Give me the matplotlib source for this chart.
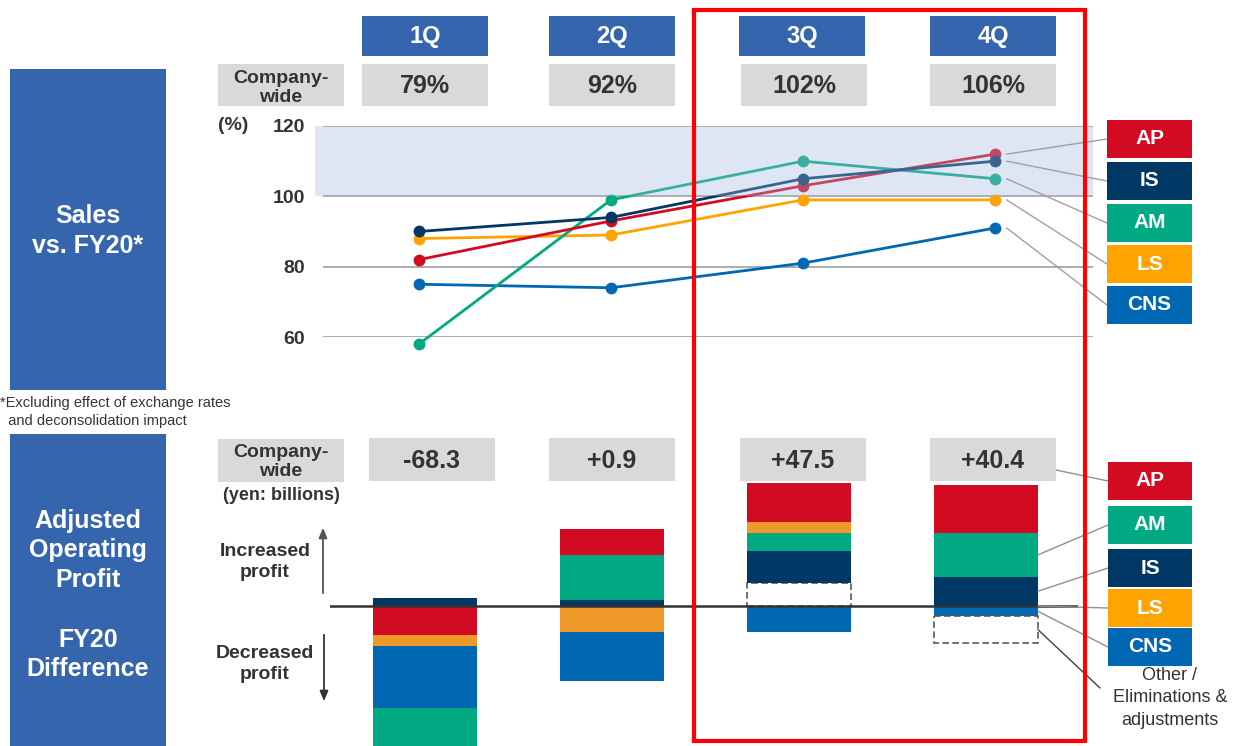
import matplotlib
matplotlib.use("Agg")
import matplotlib.pyplot as plt
from matplotlib.patches import Rectangle, ConnectionPatch

plt.rcParams['font.family'] = ['Liberation Sans', 'DejaVu Sans']

# ---- data ----
quarters = ["1Q", "2Q", "3Q", "4Q"]
company_sales = ["79%", "92%", "102%", "106%"]
company_profit = ["-68.3", "+0.9", "+47.5", "+40.4"]

# sales vs FY20 (%) by segment
sales_AP = [82, 93, 103, 112]
sales_IS = [90, 94, 105, 110]
sales_AM = [58, 99, 110, 105]
sales_LS = [88, 89, 99, 99]
sales_CNS = [75, 74, 81, 91]

# adjusted operating profit difference vs FY20 (yen, billions)
profit_AP = [-14.1, 12.6, 18.7, 23.2]
profit_IS = [3.9, 2.9, 15.4, 14.0]
profit_AM = [-22.9, 21.6, 8.5, 21.1]
profit_LS = [-5.3, -12.7, 5.3, -0.3]
profit_CNS = [-29.9, -23.5, -12.5, -4.8]
profit_other = [0.0, 0.0, 11.1, -12.9]

colors = {"AP": "#d20a22", "IS": "#003865", "AM": "#00a982",
          "LS": "#ffa300", "CNS": "#0068b2"}
bar_colors = dict(colors, LS="#f0992b")
BLUE = "#3566ad"
GREY = "#d9d9d9"
TXT = "#333333"

W, H = 1239, 746
fig = plt.figure(figsize=(W / 100, H / 100), dpi=100)


def px_axes(x0, y0, x1, y1):
    return fig.add_axes([x0 / W, 1 - y1 / H, (x1 - x0) / W, (y1 - y0) / H])


# ---- line chart ----
ax = px_axes(323, 126, 1093, 337)
x = range(len(quarters))
sales = {"AP": sales_AP, "IS": sales_IS, "AM": sales_AM, "LS": sales_LS, "CNS": sales_CNS}
for name in ["CNS", "LS", "AM", "AP", "IS"]:
    ax.plot(x, sales[name], color=colors[name], lw=2, marker="o", ms=7.5,
            clip_on=False, zorder=3)
ax.axhspan(100, 120, xmin=-0.011, xmax=1, color="#a6badd", alpha=0.35, lw=0,
           zorder=4, clip_on=False)
ax.set_xlim(-0.5, 3.51)
ax.set_ylim(60, 120)
ax.set_yticks([60, 80, 100, 120])
ax.set_xticks([])
ax.grid(axis="y", color="#a6a6a6", lw=1.3, zorder=1)
ax.tick_params(axis="y", length=0, pad=13, labelsize=14, labelcolor=TXT)
for lab in ax.get_yticklabels():
    lab.set_fontweight("bold")
for s in ax.spines.values():
    s.set_visible(False)
ax.patch.set_alpha(0)

# ---- stacked profit bars ----
axb = px_axes(330, 470, 1078, 746)
profit = {"AP": profit_AP, "IS": profit_IS, "AM": profit_AM, "LS": profit_LS,
          "CNS": profit_CNS, "Other": profit_other}
pos_order = ["Other", "IS", "AM", "LS", "AP"]
neg_order = ["AP", "LS", "CNS", "AM", "Other"]
bw = 0.556
mids = {}
for i in range(len(quarters)):
    up, down = 0.0, 0.0
    for name in pos_order:
        v = profit[name][i]
        if v > 0:
            if name == "Other":
                axb.bar(i, v, bw, bottom=up, facecolor="white", edgecolor="#595959",
                        ls=(0, (4, 2)), lw=1.2, zorder=2)
            else:
                axb.bar(i, v, bw, bottom=up, color=bar_colors[name], lw=0, zorder=2)
            mids[(i, name)] = up + v / 2
            up += v
    for name in neg_order:
        v = profit[name][i]
        if v < 0:
            if name == "Other":
                axb.bar(i, v, bw, bottom=down, facecolor="white", edgecolor="#595959",
                        ls=(0, (4, 2)), lw=1.2, zorder=2)
            else:
                axb.bar(i, v, bw, bottom=down, color=bar_colors[name], lw=0, zorder=2)
            mids[(i, name)] = down + v / 2
            down += v
axb.axhline(0, color="#333333", lw=1.8, zorder=3)
axb.set_xlim(-0.508, 3.492)
axb.set_ylim(-67.7, 65.5)
axb.axis("off")

# ---- overlay for boxes and labels ----
ov = fig.add_axes([0, 0, 1, 1], zorder=5)
ov.set_xlim(0, W)
ov.set_ylim(H, 0)
ov.axis("off")
ov.patch.set_alpha(0)


def box(x0, y0, x1, y1, color, **kw):
    ov.add_patch(Rectangle((x0, y0), x1 - x0, y1 - y0, color=color, lw=0, **kw))


# left side blocks
box(10, 69, 166, 390, BLUE)
box(10, 434, 166, 746, BLUE)
ov.text(88, 231, "Sales\nvs. FY20*", color="white", fontsize=18, fontweight="bold",
        ha="center", va="center", linespacing=1.35)
ov.text(88, 595, "Adjusted\nOperating\nProfit\n\nFY20\nDifference", color="white",
        fontsize=18, fontweight="bold", ha="center", va="center", linespacing=1.3)
ov.text(0, 412, "*Excluding effect of exchange rates\n  and deconsolidation impact",
        fontsize=10.5, color=TXT, ha="left", va="center", linespacing=1.3)

# company-wide labels
box(218, 64, 344, 106, GREY)
ov.text(281, 88, "Company-\nwide", fontsize=14, fontweight="bold", color=TXT,
        ha="center", va="center", linespacing=1.15)
box(218, 439, 344, 482, GREY)
ov.text(281, 462, "Company-\nwide", fontsize=14, fontweight="bold", color=TXT,
        ha="center", va="center", linespacing=1.15)
ov.text(281, 496, "(yen: billions)", fontsize=13, fontweight="bold", color=TXT,
        ha="center", va="center")
ov.text(233, 125, "(%)", fontsize=14, fontweight="bold", color=TXT, ha="center", va="center")

# quarter headers and company-wide values
head_cx = [425, 612, 802, 993]
sales_cx = [425, 612, 804, 993]
prof_cx = [432, 612, 803, 993]
for i, q in enumerate(quarters):
    box(head_cx[i] - 63, 16, head_cx[i] + 63, 56, BLUE)
    ov.text(head_cx[i], 37, q, color="white", fontsize=17, fontweight="bold",
            ha="center", va="center")
    box(sales_cx[i] - 63, 64, sales_cx[i] + 63, 106, GREY)
    ov.text(sales_cx[i], 86, company_sales[i], color=TXT, fontsize=18,
            fontweight="bold", ha="center", va="center")
    box(prof_cx[i] - 63, 438, prof_cx[i] + 63, 481, GREY)
    ov.text(prof_cx[i], 461, company_profit[i], color=TXT, fontsize=18,
            fontweight="bold", ha="center", va="center")

# increase / decrease arrows
ov.text(265, 562, "Increased\nprofit", fontsize=14, fontweight="bold", color=TXT,
        ha="center", va="center", linespacing=1.3)
ov.text(265, 664, "Decreased\nprofit", fontsize=14, fontweight="bold", color=TXT,
        ha="center", va="center", linespacing=1.3)
ov.annotate("", xy=(323, 525), xytext=(323, 596),
            arrowprops=dict(arrowstyle="-|>,head_length=0.6,head_width=0.25",
                            color="#555555", lw=1.3))
ov.annotate("", xy=(324, 704), xytext=(324, 632),
            arrowprops=dict(arrowstyle="-|>,head_length=0.6,head_width=0.25",
                            color="#333333", lw=1.3))

# legend boxes, line chart
top_legend = ["AP", "IS", "AM", "LS", "CNS"]
top_y = [120, 162, 204, 245, 286]
for name, y0 in zip(top_legend, top_y):
    box(1107, y0, 1192, y0 + 38, colors[name])
    ov.text(1149.5, y0 + 19, name, color="white", fontsize=15, fontweight="bold",
            ha="center", va="center")
    cp = ConnectionPatch(xyA=(3.06, sales[name][3]), coordsA=ax.transData,
                         xyB=(1107, y0 + 19), coordsB=ov.transData,
                         color="#a0a0a0", lw=1)
    fig.add_artist(cp)

# legend boxes, bar chart
bot_legend = ["AP", "AM", "IS", "LS", "CNS"]
bot_y = [462, 506, 549, 589, 628]
for name, y0 in zip(bot_legend, bot_y):
    box(1108, y0, 1192, y0 + 38, colors[name])
    ov.text(1150, y0 + 19, name, color="white", fontsize=15, fontweight="bold",
            ha="center", va="center")
    if name == "AP":
        cp = ConnectionPatch(xyA=(prof_cx[3] + 63, 470), coordsA=ov.transData,
                             xyB=(1108, y0 + 19), coordsB=ov.transData,
                             color="#909090", lw=1)
    else:
        cp = ConnectionPatch(xyA=(3 + bw / 2, mids[(3, name)]), coordsA=axb.transData,
                             xyB=(1108, y0 + 19), coordsB=ov.transData,
                             color="#909090", lw=1)
    fig.add_artist(cp)

cp = ConnectionPatch(xyA=(3 + bw / 2, mids[(3, "Other")]), coordsA=axb.transData,
                     xyB=(1100, 688), coordsB=ov.transData, color="#404040", lw=1)
fig.add_artist(cp)
ov.text(1170, 698, "Other /\nEliminations &\nadjustments", fontsize=13, color=TXT,
        ha="center", va="center", linespacing=1.4)

# highlight frame around 3Q-4Q
ov.add_patch(Rectangle((694, 10), 391, 731, fill=False, edgecolor="#ff0000", lw=3))

fig.savefig("out.png", dpi=100)
